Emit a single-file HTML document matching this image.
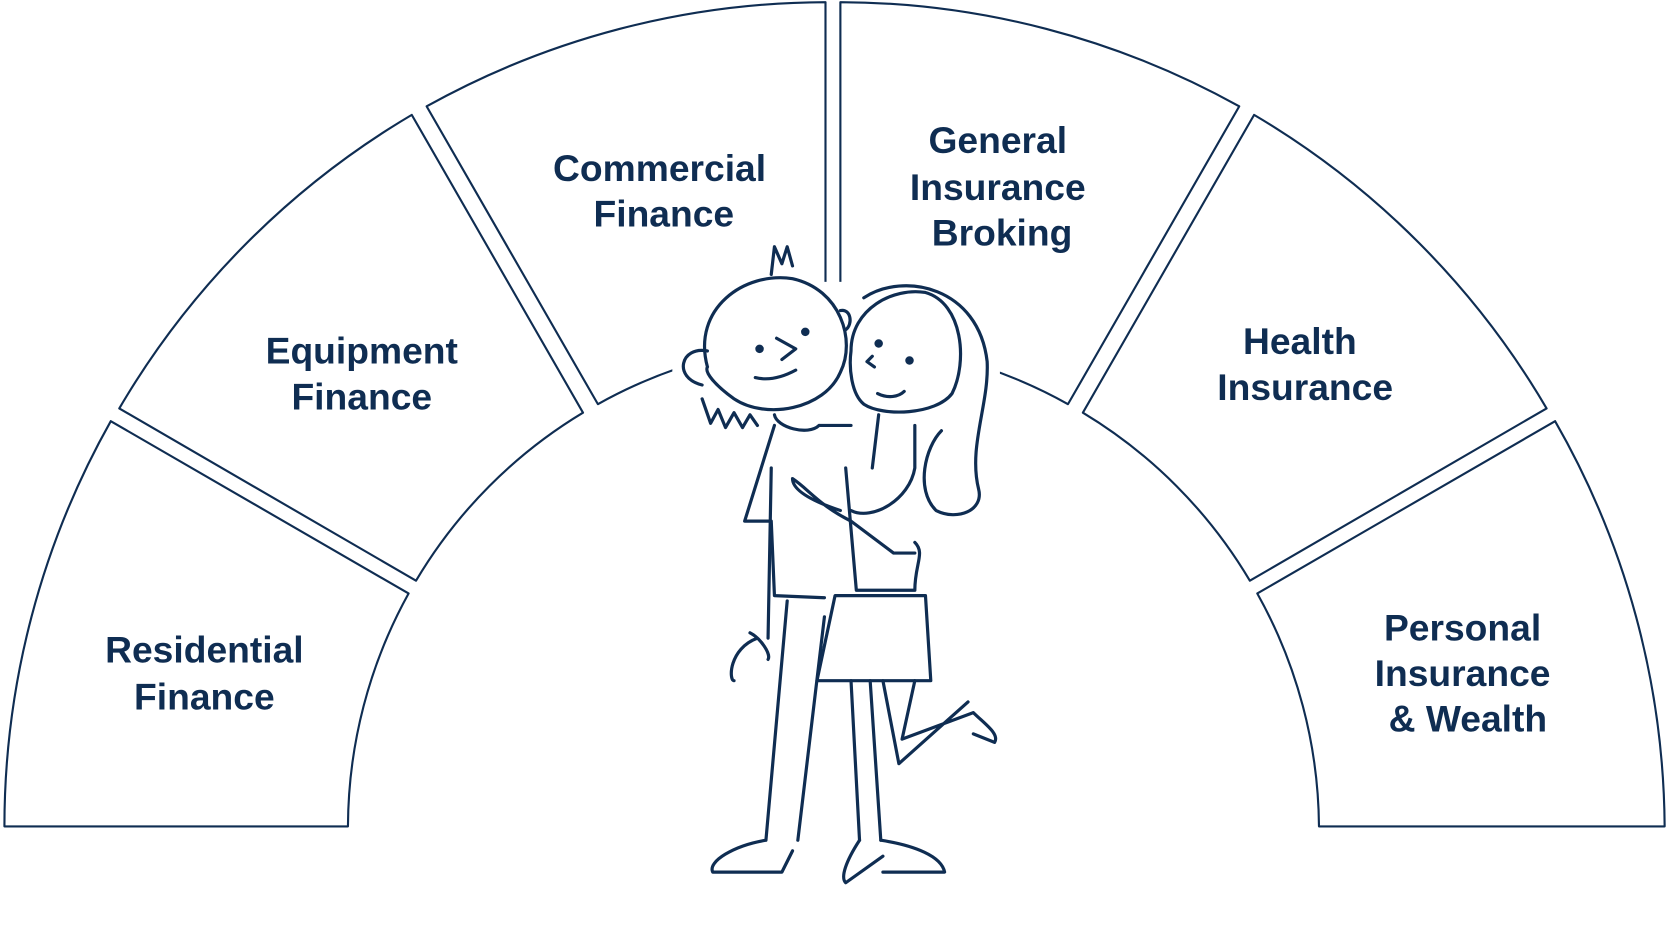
<!DOCTYPE html>
<html><head><meta charset="utf-8"><style>
html,body{margin:0;padding:0;background:#fff;}
svg{display:block}
text{font-family:"Liberation Sans",sans-serif;font-weight:bold;font-size:35px;fill:#0f2d52;text-anchor:middle}
</style></head><body>
<svg width="1668" height="937" viewBox="0 0 1568 881" xmlns="http://www.w3.org/2000/svg">
<g fill="#fff" stroke="#0f2d52" stroke-width="2" stroke-linejoin="round">
<path d="M 4 777 A 776 776 0 0 1 104 396 L 384 558 A 456 456 0 0 0 327 777 Z"/>
<path d="M 112 384 A 776 776 0 0 1 387 108 L 548 388 A 456 456 0 0 0 391 546 Z"/>
<path d="M 401 100 A 776 776 0 0 1 776 2 L 776 322 A 456 456 0 0 0 562 380 Z"/>
<path d="M 790 2 A 776 776 0 0 1 1165 100 L 1004 380 A 456 456 0 0 0 790 322 Z"/>
<path d="M 1179 108 A 776 776 0 0 1 1454 384 L 1175 546 A 456 456 0 0 0 1018 388 Z"/>
<path d="M 1462 396 A 776 776 0 0 1 1565 777 L 1240 777 A 456 456 0 0 0 1182 558 Z"/>
</g>
<text x="192" y="623">Residential</text><text x="192" y="667">Finance</text>
<text x="340" y="342">Equipment</text><text x="340" y="385">Finance</text>
<text x="620" y="170">Commercial</text><text x="624" y="213">Finance</text>
<text x="938" y="144">General</text><text x="938" y="188">Insurance</text><text x="942" y="231">Broking</text>
<text x="1222" y="333">Health</text><text x="1227" y="376">Insurance</text>
<text x="1375" y="602">Personal</text><text x="1375" y="645">Insurance</text><text x="1380" y="688">&amp; Wealth</text>
<rect x="632" y="265" width="308" height="565" fill="#fff"/>
<g fill="none" stroke="#0f2d52" stroke-width="3" stroke-linecap="round" stroke-linejoin="round">
<!-- boy -->
<path d="M 665 345 C 650 290 700 255 745 262 C 790 272 805 320 790 350 C 775 385 720 395 690 375 C 672 362 662 350 665 345"/>
<path d="M 665 330 C 640 325 632 355 660 362"/>
<path d="M 790 292 C 800 290 802 305 795 310"/>
<path d="M 725 258 L 728 232 L 735 248 L 740 232 L 745 250"/>
<path d="M 730 318 L 748 328 L 735 338 M 710 355 C 722 358 735 355 748 348"/>
<circle cx="714" cy="328" r="2.5" fill="#0f2d52"/><circle cx="757" cy="312" r="2.5" fill="#0f2d52"/>
<path d="M 660 375 L 668 398 L 675 385 L 682 402 L 690 388 L 698 402 L 705 390 L 712 400"/>
<path d="M 728 390 C 730 402 760 410 770 400 M 728 400 L 700 490 L 725 490 L 728 560 L 775 562 M 770 400 L 800 400"/>
<path d="M 725 440 L 722 600 M 712 600 C 685 610 685 640 690 640 M 705 595 C 715 600 725 615 722 620"/>
<path d="M 740 565 L 720 790 M 775 580 L 750 790 M 720 790 C 690 795 665 810 670 820 L 735 820 L 745 800"/>
<!-- girl -->
<path d="M 800 330 C 800 290 840 270 870 275 C 905 285 910 340 895 370 C 880 390 830 392 812 380 C 800 370 798 345 800 330"/>
<path d="M 812 280 C 850 255 920 270 928 340 C 930 380 910 420 920 460 C 925 480 900 490 880 480 C 860 460 870 420 885 405"/>
<circle cx="826" cy="323" r="2.5" fill="#0f2d52"/><circle cx="855" cy="339" r="2.5" fill="#0f2d52"/>
<path d="M 820 335 L 815 340 L 822 345 M 825 370 C 835 375 845 373 850 368"/>
<path d="M 826 390 L 820 440 M 860 400 L 860 440 C 855 470 820 490 800 480"/>
<path d="M 795 440 L 805 555 L 860 555 C 860 530 870 520 860 510"/>
<path d="M 790 480 C 760 470 745 460 745 450 C 760 460 770 475 800 490 L 840 520 L 860 520"/>
<path d="M 785 560 L 768 640 L 875 640 L 870 560 Z"/>
<path d="M 800 640 L 808 790 M 818 640 L 828 790 M 830 640 L 845 718 L 910 660 M 860 640 L 848 695 L 915 670 C 925 680 940 690 935 698 L 915 690"/>
<path d="M 808 790 C 795 810 790 825 795 830 L 830 805 M 828 790 C 860 795 885 805 888 820 L 830 820"/>
</g>
</svg>
</body></html>
